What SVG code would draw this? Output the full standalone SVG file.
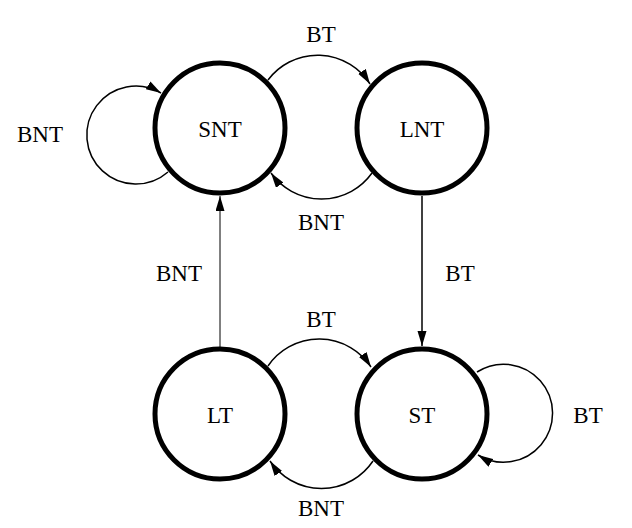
<svg xmlns="http://www.w3.org/2000/svg" width="632" height="528" viewBox="0 0 632 528">
<style>
.node{fill:#fff;stroke:#000;stroke-width:5}
.edge{fill:none;stroke:#000;stroke-width:1.5}
text{font-family:"Liberation Serif","Times New Roman",serif;font-size:23px;fill:#000;text-anchor:middle}
</style>
<defs>
<marker id="arr" markerUnits="userSpaceOnUse" markerWidth="16" markerHeight="10" refX="15" refY="4.5" orient="auto">
<path d="M0,0 L15,4.5 L0,9 z" fill="#000"/>
</marker>
</defs>
<rect width="632" height="528" fill="#fff"/>
<g id="SNT"><circle class="node" cx="220" cy="128" r="65"/><text x="220" y="137">SNT</text></g>
<g id="LNT"><circle class="node" cx="422" cy="128" r="65"/><text x="422" y="137">LNT</text></g>
<g id="LT"><circle class="node" cx="220" cy="414" r="65"/><text x="220" y="423">LT</text></g>
<g id="ST"><circle class="node" cx="422" cy="414" r="65"/><text x="422" y="423">ST</text></g>
<g id="connectors">
<path class="edge" d="M268,80 A62,62 0 0,1 370,84" marker-end="url(#arr)"/>
<path class="edge" d="M372,173 A62,62 0 0,1 271,173" marker-end="url(#arr)"/>
<path class="edge" d="M168,172 A49,49 0 1,1 161,93" marker-end="url(#arr)"/>
<path class="edge" d="M220,347 L220,196" style="stroke-width:1" marker-end="url(#arr)"/>
<path class="edge" d="M422,196 L422,346" marker-end="url(#arr)"/>
<path class="edge" d="M268,366 A62,62 0 0,1 371,367" marker-end="url(#arr)"/>
<path class="edge" d="M373,461 A62,62 0 0,1 270,461" marker-end="url(#arr)"/>
<path class="edge" d="M477,372 A49,49 0 1,1 478,455" marker-end="url(#arr)"/>
<text x="40" y="142">BNT</text>
<text x="321" y="42">BT</text>
<text x="321" y="230">BNT</text>
<text x="179" y="281">BNT</text>
<text x="460" y="281">BT</text>
<text x="321" y="327">BT</text>
<text x="321" y="516">BNT</text>
<text x="588" y="423">BT</text>
</g>
</svg>
